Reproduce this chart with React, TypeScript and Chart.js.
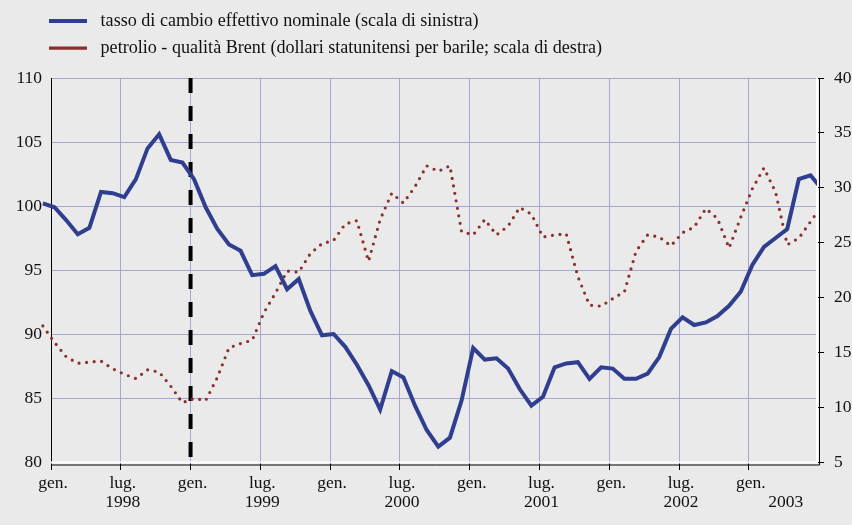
import React, { useEffect, useRef } from 'react';
import { Chart, registerables } from 'chart.js';

Chart.register(...registerables);

// ---- data (monthly, December 1997 to July 2003) ----
const FIRST_YEAR = 1997;
const FIRST_MONTH = 11; // December, 0-based
const MONTH_NAMES = ['gen.', 'feb.', 'mar.', 'apr.', 'mag.', 'giu.', 'lug.', 'ago.', 'set.', 'ott.', 'nov.', 'dic.'];

const EXCHANGE_RATE = [
  100.2, 99.9, 98.9, 97.8, 98.3, 101.1, 101.0, 100.7, 102.1, 104.5, 105.6, 103.6,
  103.4, 102.1, 99.9, 98.2, 97.0, 96.5, 94.6, 94.7, 95.3, 93.5, 94.3, 91.8,
  89.9, 90.0, 89.0, 87.6, 86.0, 84.1, 87.1, 86.6, 84.4, 82.5, 81.2, 81.9,
  84.8, 88.9, 88.0, 88.1, 87.3, 85.7, 84.4, 85.1, 87.4, 87.7, 87.8, 86.5,
  87.4, 87.3, 86.5, 86.5, 86.9, 88.2, 90.4, 91.3, 90.7, 90.9, 91.4, 92.2,
  93.3, 95.4, 96.8, 97.5, 98.2, 102.1, 102.4, 101.3,
];

const BRENT = [
  17.4, 15.9, 14.6, 14.0, 14.1, 14.2, 13.5, 13.0, 12.6, 13.4, 13.2, 11.9,
  10.4, 10.8, 10.6, 12.7, 15.4, 15.8, 16.1, 18.6, 20.4, 22.4, 22.3, 24.0,
  24.9, 25.2, 26.7, 27.0, 23.3, 27.1, 29.5, 28.6, 30.1, 32.0, 31.5, 32.0,
  26.0, 25.7, 27.1, 25.7, 26.5, 28.2, 27.6, 25.5, 25.7, 25.8, 21.9, 19.3,
  19.2, 19.9, 20.5, 24.2, 25.7, 25.5, 24.7, 25.9, 26.4, 28.1, 27.2, 24.5,
  27.3, 29.9, 31.8, 29.6, 24.8, 25.4, 26.9, 28.4,
];

const MONTHS = EXCHANGE_RATE.map((_, i) => {
  const m = FIRST_MONTH + i;
  return `${MONTH_NAMES[m % 12]} ${FIRST_YEAR + Math.floor(m / 12)}`;
});

// x-axis ticks (month index from December 1997)
const TICK_MONTHS = [1, 7, 13, 19, 25, 31, 37, 43, 49, 55, 61, 64];
const TICK_LABELS = [
  ['gen.'], ['lug.', '1998'], ['gen.'], ['lug.', '1999'], ['gen.'], ['lug.', '2000'],
  ['gen.'], ['lug.', '2001'], ['gen.'], ['lug.', '2002'], ['gen.'], ['', '2003'],
];
const LABEL_ONLY_TICK = 11; // "2003" has no tick mark / grid line
const EURO_MONTH = 13; // January 1999

const LEFT_MIN = 80, LEFT_MAX = 110, LEFT_STEP = 5;
const RIGHT_MIN = 5, RIGHT_MAX = 40, RIGHT_STEP = 5;

const SERIES_LABELS = [
  'tasso di cambio effettivo nominale (scala di sinistra)',
  'petrolio - qualità Brent (dollari statunitensi per barile; scala di destra)',
];

// ---- style ----
const W = 852, H = 525;
const BG = '#eaeaea';
const GRID = '#a6a6d3';
const BLUE = '#2f3e8e';
const RED = '#8b2e2e';
const TEXT = '#111111';
const FONT = "'Liberation Serif', 'Times New Roman', serif";
const TICK_SHIFT = -0.3;
const X_MIN = 0.7;
const X_MAX = 66.56;
const LEGEND_LEFT = 40;

const legendShiftPlugin = {
  id: 'legendShift',
  afterLayout(chart: any) {
    const lg = chart.legend;
    if (lg) {
      const w = lg.width;
      lg.left = LEGEND_LEFT;
      lg.right = LEGEND_LEFT + w;
    }
  },
};

const framePlugin = {
  id: 'frame',
  beforeDatasetsDraw(chart: any) {
    const { ctx, chartArea: a, scales } = chart;
    ctx.save();
    // euro introduction: dashed vertical line
    const xe = scales.x.getPixelForValue(EURO_MONTH + TICK_SHIFT);
    ctx.strokeStyle = '#000';
    ctx.lineWidth = 4;
    ctx.setLineDash([15, 13]);
    ctx.beginPath();
    ctx.moveTo(xe, a.top);
    ctx.lineTo(xe, a.bottom);
    ctx.stroke();
    ctx.setLineDash([]);
    // white plot border (bottom + right)
    ctx.strokeStyle = '#ffffff';
    ctx.lineWidth = 2;
    ctx.beginPath();
    ctx.moveTo(a.left, a.bottom + 0.5);
    ctx.lineTo(a.right, a.bottom + 0.5);
    ctx.lineTo(a.right, a.top);
    ctx.stroke();
    // black axis lines (bottom + right)
    ctx.strokeStyle = '#000';
    ctx.lineWidth = 1;
    ctx.beginPath();
    ctx.moveTo(a.left, a.bottom + 3);
    ctx.lineTo(a.right + 2.5, a.bottom + 3);
    ctx.lineTo(a.right + 2.5, a.top);
    ctx.stroke();
    ctx.restore();
  },
};

export default function App() {
  const ref = useRef<HTMLCanvasElement | null>(null);

  useEffect(() => {
    if (!ref.current) return;
    const chart = new Chart(ref.current, {
      type: 'line',
      data: {
        labels: MONTHS,
        datasets: [
          {
            label: SERIES_LABELS[0],
            data: EXCHANGE_RATE.map((v, i) => ({ x: i, y: v })),
            yAxisID: 'y',
            borderColor: BLUE,
            backgroundColor: BLUE,
            borderWidth: 4,
            pointRadius: 0,
            tension: 0,
            borderJoinStyle: 'miter',
            clip: { left: false, top: false, right: 0, bottom: false },
            order: 1,
          },
          {
            label: SERIES_LABELS[1],
            data: BRENT.map((v, i) => ({ x: i, y: v })),
            yAxisID: 'y1',
            borderColor: RED,
            backgroundColor: RED,
            borderWidth: 3.2,
            borderDash: [0, 7.6],
            borderCapStyle: 'round',
            pointRadius: 0,
            tension: 0,
            clip: { left: false, top: false, right: 0, bottom: false },
            order: 2,
          },
        ],
      },
      options: {
        responsive: false,
        animation: false,
        devicePixelRatio: 1,
        layout: { padding: { left: 0, top: 3, right: 0, bottom: 0 } },
        plugins: {
          legend: {
            position: 'top',
            align: 'start',
            labels: {
              usePointStyle: true,
              pointStyle: 'line',
              pointStyleWidth: 38,
              padding: 9,
              color: TEXT,
              font: { family: FONT, size: 18.1 },
              generateLabels: (c: any) =>
                Chart.defaults.plugins.legend.labels
                  .generateLabels(c)
                  .map((it: any) => ({ ...it, text: ' ' + it.text })),
            },
            onClick: () => {},
          },
          tooltip: { enabled: false },
        },
        scales: {
          x: {
            type: 'linear',
            position: 'bottom',
            min: X_MIN,
            max: X_MAX,
            afterBuildTicks: (s: any) => {
              s.ticks = TICK_MONTHS.map((m) => ({ value: m + TICK_SHIFT }));
            },
            afterFit: (s: any) => {
              s.height = 63;
            },
            grid: {
              display: true,
              drawOnChartArea: true,
              drawTicks: true,
              tickLength: 8,
              color: (ctx: any) =>
                ctx.index === 0 || ctx.index === LABEL_ONLY_TICK ? 'rgba(0,0,0,0)' : GRID,
              tickColor: (ctx: any) => (ctx.index === LABEL_ONLY_TICK ? 'rgba(0,0,0,0)' : '#000'),
              lineWidth: 1,
              tickWidth: 1,
            },
            border: { display: false },
            ticks: {
              autoSkip: false,
              maxRotation: 0,
              minRotation: 0,
              padding: 4,
              labelOffset: 2,
              color: TEXT,
              font: { family: FONT, size: 17.5, lineHeight: 1.086 },
              callback: (_v: any, i: number) => TICK_LABELS[i],
            },
          },
          spacer: {
            type: 'linear',
            position: 'top',
            display: true,
            grid: { display: false },
            border: { display: false },
            ticks: { display: false },
            afterFit: (s: any) => {
              s.height = 10.8;
            },
          },
          y: {
            type: 'linear',
            position: 'left',
            min: LEFT_MIN,
            max: LEFT_MAX,
            afterFit: (s: any) => {
              s.width = 51;
            },
            grid: {
              drawTicks: false,
              color: (ctx: any) => (ctx.tick && ctx.tick.value === LEFT_MIN ? 'rgba(0,0,0,0)' : GRID),
              lineWidth: 1,
            },
            border: { display: true, color: '#000', width: 1 },
            ticks: {
              stepSize: LEFT_STEP,
              padding: 9,
              color: TEXT,
              font: { family: FONT, size: 17.5 },
            },
          },
          y1: {
            type: 'linear',
            position: 'right',
            min: RIGHT_MIN,
            max: RIGHT_MAX,
            afterFit: (s: any) => {
              s.width = 35;
            },
            grid: {
              drawOnChartArea: false,
              drawTicks: true,
              tickLength: 7,
              color: '#000',
              lineWidth: 1,
            },
            border: { display: false },
            ticks: {
              stepSize: RIGHT_STEP,
              padding: 10,
              color: TEXT,
              font: { family: FONT, size: 17.5 },
            },
          },
        },
      },
      plugins: [legendShiftPlugin, framePlugin],
    } as any);
    return () => chart.destroy();
  }, []);

  return (
    <div style={{ position: 'absolute', left: 0, top: 0, width: W, height: H, background: BG }}>
      <canvas ref={ref} width={W} height={H} style={{ display: 'block', width: W, height: H }} />
    </div>
  );
}
